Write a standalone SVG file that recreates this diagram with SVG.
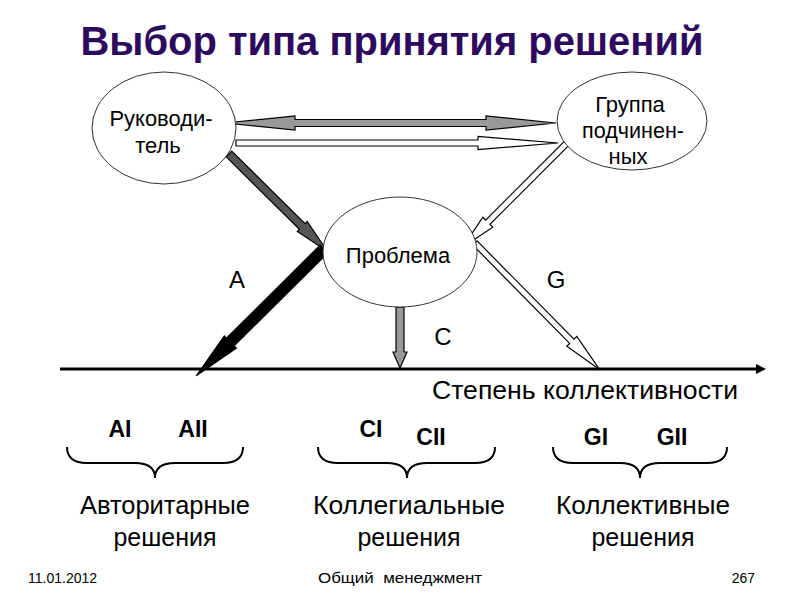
<svg xmlns="http://www.w3.org/2000/svg" width="800" height="600" viewBox="0 0 800 600">
<style>
text{font-family:"Liberation Sans",Arial,sans-serif;fill:#000}
.title{font-size:40px;font-weight:bold;fill:#2E0A5E}
.node ellipse{fill:#fff;stroke:#333;stroke-width:1}
.nt{font-size:22px;text-anchor:middle}
.lab{font-size:24px;text-anchor:middle}
.code{font-size:23px;font-weight:bold;text-anchor:middle}
.cat{font-size:25px;text-anchor:middle}
.foot{font-size:14px}
.arr{stroke:#000;stroke-width:1.2;stroke-linejoin:miter}
.gray{fill:#999}
.dark{fill:#555}
.black{fill:#000}
.white{fill:#fff}
.brace{fill:none;stroke:#000;stroke-width:2}
</style>
<rect width="800" height="600" fill="#fff"/>
<text class="title" x="392" y="55" text-anchor="middle" textLength="623" lengthAdjust="spacingAndGlyphs">Выбор типа принятия решений</text>

<g id="connectors">
  <polygon id="c-both" class="arr gray" transform="translate(225,123)" points="0,0 70,-7 70,-3.5 261,-3.5 261,-7 331,0 261,7 261,3.5 70,3.5 70,7"/>
  <polygon id="c-lead-group" class="arr white" transform="translate(236,143)" points="0,-3 242,-3 242,-6.5 322,0 242,6.5 242,3 0,3"/>
  <polygon id="c-lead-prob" class="arr dark" transform="translate(229,154) rotate(44.7)" points="0,-4 103,-4 103,-7 139,0 103,7 103,4 0,4"/>
  <polygon id="c-A" class="arr black" transform="translate(324,249) rotate(135.2)" points="0,-5.5 132,-5.5 132,-8.5 180,0 132,8.5 132,5.5 0,5.5"/>
  <polygon id="c-group-prob" class="arr white" transform="translate(567,143) rotate(135)" points="0,-3 112,-3 112,-7 147,0 112,7 112,3 0,3"/>
  <polygon id="c-G" class="arr white" transform="translate(475,243) rotate(45.45)" points="0,-3 138,-3 138,-7 178,0 138,7 138,3 0,3"/>
  <polygon id="c-C" class="arr gray" transform="translate(400,307) rotate(90)" points="0,-4 45,-4 45,-7 61,0 45,7 45,4 0,4"/>
  <g id="axis">
    <line x1="60" y1="369" x2="758" y2="369" stroke="#000" stroke-width="3"/>
    <polygon points="766,369 756,364 756,374" fill="#000"/>
  </g>
</g>

<g id="n-leader" class="node">
  <ellipse cx="164" cy="128" rx="72" ry="56"/>
  <text class="nt" x="161" y="126" textLength="103" lengthAdjust="spacingAndGlyphs">Руководи-</text>
  <text class="nt" x="158" y="153">тель</text>
</g>
<g id="n-group" class="node">
  <ellipse cx="632" cy="121" rx="75" ry="49"/>
  <text class="nt" x="630" y="112">Группа</text>
  <text class="nt" x="633" y="138" textLength="102" lengthAdjust="spacingAndGlyphs">подчинен-</text>
  <text class="nt" x="628" y="164">ных</text>
</g>
<g id="n-problem" class="node">
  <ellipse cx="400" cy="252" rx="77" ry="55"/>
  <text class="nt" x="398" y="263">Проблема</text>
</g>

<text class="lab" x="237" y="288">A</text>
<text class="lab" x="556" y="288">G</text>
<text class="lab" x="443" y="345">C</text>
<text x="585" y="399" font-size="25" text-anchor="middle" textLength="306" lengthAdjust="spacingAndGlyphs">Степень коллективности</text>

<g id="g-auth">
  <text class="code" x="120" y="437">AI</text>
  <text class="code" x="193" y="437">AII</text>
  <path class="brace" d="M67,447 Q67,463 87,463 L135,463 Q155,463 155,478 Q155,463 175,463 L223,463 Q243,463 243,447"/>
  <text class="cat" x="165" y="514" textLength="170" lengthAdjust="spacingAndGlyphs">Авторитарные</text>
  <text class="cat" x="165" y="546">решения</text>
</g>
<g id="g-coll">
  <text class="code" x="371" y="437">CI</text>
  <text class="code" x="431" y="445">CII</text>
  <path class="brace" d="M318,447 Q318,463 338,463 L387,463 Q407,463 407,478 Q407,463 427,463 L475,463 Q495,463 495,447"/>
  <text class="cat" x="409" y="514" textLength="192" lengthAdjust="spacingAndGlyphs">Коллегиальные</text>
  <text class="cat" x="409" y="546">решения</text>
</g>
<g id="g-group">
  <text class="code" x="596" y="445">GI</text>
  <text class="code" x="672" y="445">GII</text>
  <path class="brace" d="M553,447 Q553,463 573,463 L620,463 Q640,463 640,478 Q640,463 660,463 L707,463 Q727,463 727,447"/>
  <text class="cat" x="643" y="514" textLength="174" lengthAdjust="spacingAndGlyphs">Коллективные</text>
  <text class="cat" x="643" y="546">решения</text>
</g>

<text class="foot" x="28" y="583">11.01.2012</text>
<text class="foot" x="400" y="583" text-anchor="middle" font-size="15" textLength="164" lengthAdjust="spacingAndGlyphs" xml:space="preserve">Общий  менеджмент</text>
<text class="foot" x="755" y="583" text-anchor="end">267</text>
</svg>
